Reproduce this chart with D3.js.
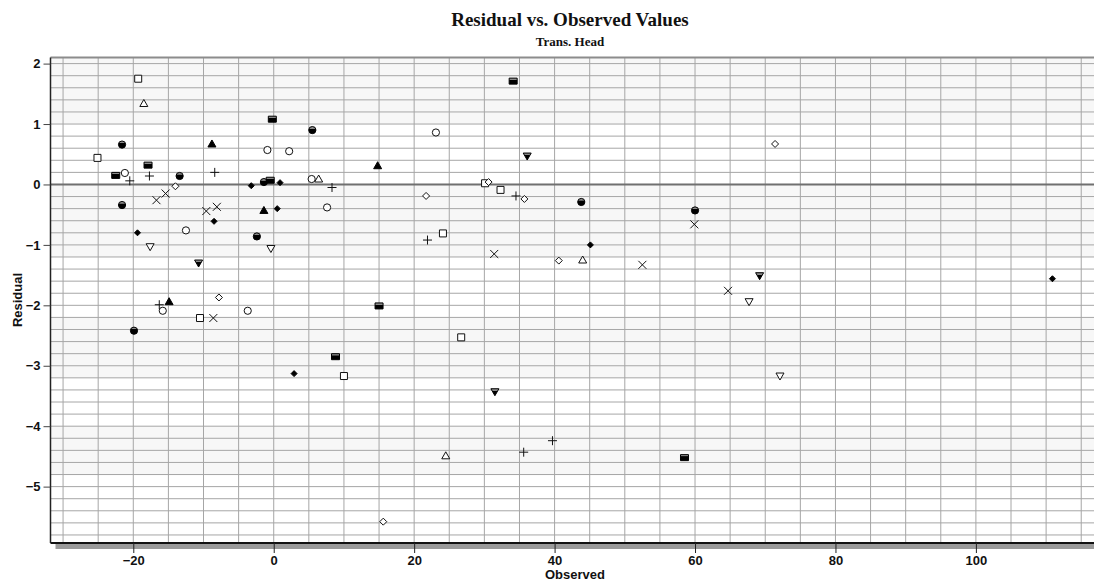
<!DOCTYPE html>
<html>
<head>
<meta charset="utf-8">
<script src="https://cdn.jsdelivr.net/npm/d3@7"></script>
<style>
  html, body { margin: 0; padding: 0; background: #fff; }
  svg { display: block; }
</style>
</head>
<body>
<svg id="chart" width="1094" height="581"></svg>
<script>
// ---------------- data: [observed, residual] per series ----------------
const openSquare = [[-25.1, 0.44], [-19.3, 1.75], [-10.5, -2.21], [10.0, -3.17], [30.1, 0.02], [32.3, -0.09], [24.1, -0.81], [26.7, -2.53]];
const openTriangle = [[-18.5, 1.34], [6.4, 0.09], [44.0, -1.25], [24.5, -4.49]];
const filledCircle = [[-21.6, 0.66], [-13.4, 0.14], [5.5, 0.90], [-1.4, 0.04], [-21.6, -0.34], [-19.9, -2.42], [-2.4, -0.86], [43.8, -0.29], [60.0, -0.43]];
const filledDiamond = [[-19.4, -0.80], [-8.5, -0.61], [-3.2, -0.02], [0.5, -0.40], [0.9, 0.03], [2.9, -3.13], [45.1, -1.00], [110.9, -1.56]];
const filledSquare = [[-22.5, 0.15], [-17.9, 0.32], [-0.2, 1.08], [-0.5, 0.07], [15.0, -2.01], [8.8, -2.85], [34.1, 1.71], [58.5, -4.52]];
const openCircle = [[-21.2, 0.19], [-0.9, 0.57], [2.2, 0.55], [5.4, 0.09], [-12.5, -0.76], [-15.8, -2.09], [-3.7, -2.09], [7.6, -0.38], [23.1, 0.86]];
const plusMark = [[-20.5, 0.06], [-17.7, 0.14], [-8.4, 0.20], [8.3, -0.05], [-16.3, -1.99], [21.9, -0.92], [34.5, -0.19], [35.6, -4.43], [39.7, -4.24]];
const crossMark = [[-16.7, -0.26], [-15.4, -0.15], [-9.6, -0.44], [-8.1, -0.37], [-8.6, -2.21], [31.4, -1.15], [52.5, -1.33], [59.9, -0.66], [64.7, -1.76]];
const openDiamond = [[-14.0, -0.03], [-7.8, -1.87], [21.7, -0.19], [30.6, 0.04], [35.7, -0.24], [40.6, -1.26], [71.4, 0.67], [15.6, -5.58]];
const filledTriangle = [[-8.8, 0.67], [14.8, 0.31], [-1.4, -0.43], [-14.9, -1.94]];
const filledDownTriangle = [[-10.7, -1.30], [36.1, 0.47], [31.5, -3.43], [69.2, -1.51]];
const openDownTriangle = [[-17.6, -1.03], [-0.4, -1.06], [67.7, -1.94], [72.1, -3.17]];

const xTicks = [-20, 0, 20, 40, 60, 80, 100];
const yTicks = [2, 1, 0, -1, -2, -3, -4, -5];
const shadedBands = [[2.1, 1.0], [0, -1.2], [-2.2, -3.2], [-4.0, -4.8]];

const title = "Residual vs. Observed Values";
const subtitle = "Trans. Head";
const xLabel = "Observed";
const yLabel = "Residual";

// ---------------- layout ----------------
const L = 50.5, R = 1094, T = 57.5, B = 543;
const svg = d3.select("#chart");

const x = d3.scaleLinear().domain([-31.79, 116.82]).range([L, R]);
const y = d3.scaleLinear().domain([2.101, -5.933]).range([T, B]);

const defs = svg.append("defs");
const g1 = defs.append("linearGradient").attr("id", "fillGrad")
  .attr("x1", 0).attr("y1", 0).attr("x2", 0).attr("y2", 1);
g1.append("stop").attr("offset", "0%").attr("stop-color", "#8a8a8a");
g1.append("stop").attr("offset", "28%").attr("stop-color", "#8a8a8a");
g1.append("stop").attr("offset", "32%").attr("stop-color", "#000");
g1.append("stop").attr("offset", "100%").attr("stop-color", "#000");
defs.append("clipPath").attr("id", "plotClip").append("rect")
  .attr("x", L).attr("y", T).attr("width", R - L).attr("height", B - T);

const plot = svg.append("g").attr("clip-path", "url(#plotClip)");
plot.append("rect").attr("x", L).attr("y", T).attr("width", R - L).attr("height", B - T).attr("fill", "#fff");
plot.selectAll("rect.band").data(shadedBands).join("rect").attr("class", "band")
  .attr("x", L).attr("width", R - L)
  .attr("y", d => y(d[0])).attr("height", d => y(d[1]) - y(d[0]))
  .attr("fill", "#f7f7f7");

const xGrid = d3.range(-30, 117, 5);
const yGrid = d3.range(-29, 11, 1).map(v => v * 0.2);
plot.selectAll("line.xg").data(xGrid).join("line").attr("class", "xg")
  .attr("x1", d => x(d)).attr("x2", d => x(d)).attr("y1", T).attr("y2", B)
  .attr("stroke", "#a6a6a6").attr("stroke-width", 1);
plot.selectAll("line.yg").data(yGrid).join("line").attr("class", "yg")
  .attr("x1", L).attr("x2", R).attr("y1", d => y(d)).attr("y2", d => y(d))
  .attr("stroke", "#a6a6a6").attr("stroke-width", 1);

plot.append("line").attr("x1", L).attr("x2", R).attr("y1", y(0)).attr("y2", y(0))
  .attr("stroke", "#707070").attr("stroke-width", 2);

svg.append("line").attr("x1", L).attr("x2", R).attr("y1", T).attr("y2", T)
  .attr("stroke", "#8c8c8c").attr("stroke-width", 2);

svg.append("rect").attr("x", L + 5).attr("y", B + 1).attr("width", R - L - 5).attr("height", 5).attr("fill", "#9a9a9a");
svg.append("line").attr("x1", L).attr("x2", R).attr("y1", B).attr("y2", B)
  .attr("stroke", "#111").attr("stroke-width", 2);

svg.append("line").attr("x1", L).attr("x2", L).attr("y1", T).attr("y2", B)
  .attr("stroke", "#222").attr("stroke-width", 1.5);

const xAxis = d3.axisBottom(x).tickValues(xTicks).tickSize(10).tickPadding(3).tickFormat(d3.format("d"));
const gx = svg.append("g").attr("transform", `translate(0,${B})`).call(xAxis);
gx.select(".domain").remove();
gx.selectAll(".tick line").attr("stroke", "#222");
gx.selectAll(".tick text").attr("font-family", "'Liberation Sans', Arial, sans-serif")
  .attr("font-size", 13).attr("font-weight", "bold").attr("fill", "#111");

const yAxis = d3.axisLeft(y).tickValues(yTicks).tickSize(7).tickPadding(3).tickFormat(d3.format("d"));
const gy = svg.append("g").attr("transform", `translate(${L},0)`).call(yAxis);
gy.select(".domain").remove();
gy.selectAll(".tick line").attr("stroke", "#444");
gy.selectAll(".tick text").attr("font-family", "'Liberation Sans', Arial, sans-serif")
  .attr("font-size", 13).attr("font-weight", "bold").attr("fill", "#111");

svg.append("text").attr("x", 570).attr("y", 26).attr("text-anchor", "middle")
  .attr("font-family", "'Liberation Serif', 'Times New Roman', serif").attr("font-weight", "bold")
  .attr("font-size", 19).attr("fill", "#111").text(title);
svg.append("text").attr("x", 570).attr("y", 46).attr("text-anchor", "middle")
  .attr("font-family", "'Liberation Serif', 'Times New Roman', serif").attr("font-weight", "bold")
  .attr("font-size", 13).attr("fill", "#111").text(subtitle);
svg.append("text").attr("x", 575).attr("y", 579).attr("text-anchor", "middle")
  .attr("font-family", "'Liberation Sans', Arial, sans-serif").attr("font-weight", "bold")
  .attr("font-size", 13).attr("fill", "#111").text(xLabel);
svg.append("text").attr("transform", "translate(22,300) rotate(-90)").attr("text-anchor", "middle")
  .attr("font-family", "'Liberation Sans', Arial, sans-serif").attr("font-weight", "bold")
  .attr("font-size", 13).attr("fill", "#111").text(yLabel);

const shapes = {
  square: "M-3.5,-3.5H3.5V3.5H-3.5Z",
  filledSquare: "M-4,-3H4V3H-4Z",
  triUp: "M0,-4L4,3L-4,3Z",
  triDown: "M0,4L4,-3L-4,-3Z",
  diamond: "M0,-3.5L3.5,0L0,3.5L-3.5,0Z",
  smallDiamond: "M0,-3L3,0L0,3L-3,0Z",
  plus: "M-4.5,0H4.5M0,-4.5V4.5",
  times: "M-4,-4L4,4M4,-4L-4,4"
};
const seriesDefs = [
  { data: openSquare, path: shapes.square, fill: "#fff", stroke: "#111" },
  { data: openTriangle, path: shapes.triUp, fill: "#fff", stroke: "#111" },
  { data: openCircle, circle: 3.6, fill: "#fff", stroke: "#111" },
  { data: openDiamond, path: shapes.diamond, fill: "#fff", stroke: "#111" },
  { data: openDownTriangle, path: shapes.triDown, fill: "#fff", stroke: "#111" },
  { data: plusMark, path: shapes.plus, fill: "none", stroke: "#111" },
  { data: crossMark, path: shapes.times, fill: "none", stroke: "#111" },
  { data: filledCircle, circle: 3.6, fill: "url(#fillGrad)", stroke: "#000" },
  { data: filledDiamond, path: shapes.smallDiamond, fill: "#000", stroke: "#000" },
  { data: filledSquare, path: shapes.filledSquare, fill: "url(#fillGrad)", stroke: "#000" },
  { data: filledTriangle, path: shapes.triUp, fill: "#000", stroke: "#000" },
  { data: filledDownTriangle, path: shapes.triDown, fill: "url(#fillGrad)", stroke: "#000" }
];
const mg = svg.append("g");
seriesDefs.forEach(s => {
  const g = mg.append("g");
  if (s.circle) {
    g.selectAll("circle").data(s.data).join("circle")
      .attr("cx", d => x(d[0])).attr("cy", d => y(d[1])).attr("r", s.circle)
      .attr("fill", s.fill).attr("stroke", s.stroke).attr("stroke-width", 1);
  } else {
    g.selectAll("path").data(s.data).join("path")
      .attr("transform", d => `translate(${x(d[0])},${y(d[1])})`)
      .attr("d", s.path).attr("fill", s.fill).attr("stroke", s.stroke).attr("stroke-width", 1);
  }
});
</script>
</body>
</html>
